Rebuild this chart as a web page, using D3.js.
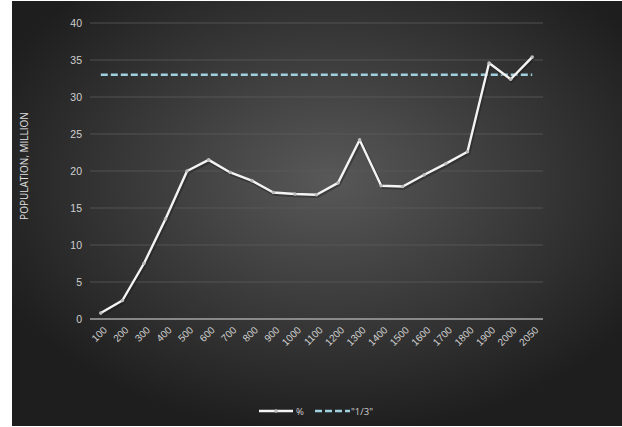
<!DOCTYPE html>
<html>
<head>
<meta charset="utf-8">
<script src="https://cdn.jsdelivr.net/npm/d3@7"></script>
<style>
  body { margin: 0; background: #fff; }
  svg { display: block; font-family: "Open Sans", "Noto Sans", sans-serif; }
</style>
</head>
<body>
<script>
// chart data
const years = ["100", "200", "300", "400", "500", "600", "700", "800", "900", "1000", "1100",
  "1200", "1300", "1400", "1500", "1600", "1700", "1800", "1900", "2000", "2050"];
const percent = [0.8, 2.5, 7.5, 13.5, 20.0, 21.5, 19.8, 18.7, 17.1, 16.9, 16.8,
  18.4, 24.2, 18.0, 17.9, 19.5, 21.0, 22.6, 34.6, 32.4, 35.4];
const third = years.map(() => 33);
const yTicks = [0, 5, 10, 15, 20, 25, 30, 35, 40];

const W = 622, H = 427;
const M = { left: 90, right: 79, top: 23, bottom: 108 };

const svg = d3.select("body").append("svg").attr("width", W).attr("height", H);

// background gradient
const defs = svg.append("defs");
const grad = defs.append("radialGradient").attr("id", "bg")
  .attr("cx", "52%").attr("cy", "42%").attr("r", "60%");
grad.append("stop").attr("offset", "0%").attr("stop-color", "#585858");
grad.append("stop").attr("offset", "100%").attr("stop-color", "#1e1e1e");

svg.append("rect").attr("x", 12).attr("y", 1).attr("width", W - 12).attr("height", H - 2)
  .attr("fill", "url(#bg)");

const x = d3.scalePoint().domain(years)
  .range([M.left, W - M.right]).padding(0.5);
const y = d3.scaleLinear().domain([0, 40]).range([H - M.bottom, M.top]);

// gridlines
svg.append("g")
  .selectAll("line").data(yTicks.filter(d => d > 0)).join("line")
  .attr("x1", M.left).attr("x2", W - M.right)
  .attr("y1", d => y(d)).attr("y2", d => y(d))
  .attr("stroke", "#5c5c5c").attr("stroke-width", 0.8);

// y axis labels
const yAxis = svg.append("g").attr("transform", `translate(${M.left - 8},0)`)
  .call(d3.axisLeft(y).tickValues(yTicks).tickSize(0).tickPadding(0));
yAxis.select(".domain").remove();
yAxis.selectAll("text").attr("fill", "#d0d0d0").attr("font-size", 10.5);

// zero axis
svg.append("line")
  .attr("x1", M.left).attr("x2", W - M.right)
  .attr("y1", y(0)).attr("y2", y(0))
  .attr("stroke", "#a6a6a6").attr("stroke-width", 1.6);

// x axis labels
const xAxis = svg.append("g").attr("transform", `translate(0,${y(0) + 11})`)
  .call(d3.axisBottom(x).tickSize(0).tickPadding(0));
xAxis.select(".domain").remove();
xAxis.selectAll("text")
  .attr("fill", "#d0d0d0").attr("font-size", 10)
  .attr("text-anchor", "end")
  .attr("dx", "0.4em").attr("dy", "0.5em")
  .attr("transform", "rotate(-45)");

// y axis title
svg.append("text")
  .attr("transform", `translate(28,${(y(0) + y(40)) / 2 - 5}) rotate(-90)`)
  .attr("text-anchor", "middle")
  .attr("fill", "#e0e0e0").attr("font-size", 10)
  .text("POPULATION, MILLION");

// "1/3" dashed line
const line = d3.line().x((d, i) => x(years[i])).y(d => y(d));
svg.append("path").datum(third)
  .attr("d", line).attr("fill", "none")
  .attr("stroke", "#9fd0de").attr("stroke-width", 2.4)
  .attr("stroke-dasharray", "7,3");

// % line
svg.append("path").datum(percent)
  .attr("d", line).attr("fill", "none")
  .attr("stroke", "#1a1a1a").attr("stroke-opacity", 0.4)
  .attr("stroke-width", 3.5).attr("transform", "translate(1,1.5)");
svg.append("path").datum(percent)
  .attr("d", line).attr("fill", "none")
  .attr("stroke", "#f4f4f4").attr("stroke-width", 2.4)
  .attr("stroke-linejoin", "round");
svg.append("g").selectAll("circle").data(percent).join("circle")
  .attr("cx", (d, i) => x(years[i])).attr("cy", d => y(d))
  .attr("r", 1.8).attr("fill", "#bdbdbd");

// legend
const lg = svg.append("g").attr("transform", "translate(0,411)");
lg.append("line").attr("x1", 259).attr("x2", 293).attr("y1", 0).attr("y2", 0)
  .attr("stroke", "#f4f4f4").attr("stroke-width", 2.4);
lg.append("circle").attr("cx", 276).attr("cy", 0).attr("r", 1.8).attr("fill", "#bdbdbd");
lg.append("text").attr("x", 296).attr("y", 3.5).attr("fill", "#d0d0d0")
  .attr("font-size", 9.5).text("%");
lg.append("line").attr("x1", 315).attr("x2", 350).attr("y1", 0).attr("y2", 0)
  .attr("stroke", "#9fd0de").attr("stroke-width", 2.4).attr("stroke-dasharray", "7,3");
lg.append("text").attr("x", 351).attr("y", 3.5).attr("fill", "#d0d0d0")
  .attr("font-size", 9.5).text("\"1/3\"");
</script>
</body>
</html>
